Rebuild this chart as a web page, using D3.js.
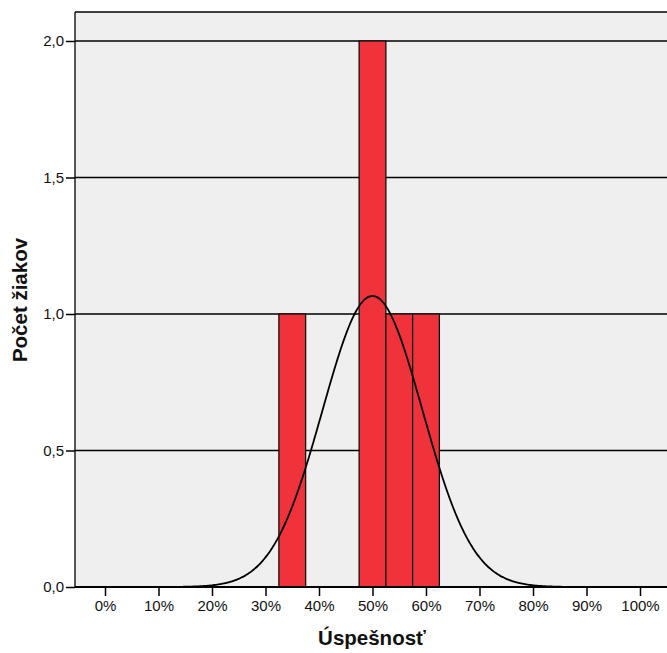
<!DOCTYPE html>
<html><head><meta charset="utf-8">
<script src="https://cdn.jsdelivr.net/npm/d3@7"></script>
<style>body{margin:0;background:#fff}svg{display:block;font-family:"Liberation Sans",Arial,sans-serif}</style>
</head><body>
<svg id="c" width="667" height="653"></svg>
<script>
// Histogram bins (percent) and counts
const binStarts = [32.5, 47.5, 52.5, 57.5];
const binWidth = 5;
const counts = [1, 2, 1, 1];
// Observations behind the histogram (bin midpoints)
const scores = [35, 50, 50, 55, 60];
const xTicks = [0,10,20,30,40,50,60,70,80,90,100];
const yTicks = [0, 0.5, 1.0, 1.5, 2.0];

(function(){
const svg = d3.select("#c");
const x = d3.scaleLinear().domain([0,100]).range([105,640]);
const y = d3.scaleLinear().domain([0,2]).range([587,41]);
const pL = 75, pT = 12, pR = 668, pB = 587;

svg.append("rect").attr("x",pL).attr("y",pT).attr("width",pR-pL).attr("height",pB-pT).attr("fill","#efefef");

// gridlines
svg.append("g").selectAll("line").data(yTicks.filter(d=>d>0)).join("line")
  .attr("x1",pL).attr("x2",pR).attr("y1",d=>y(d)).attr("y2",d=>y(d))
  .attr("stroke","#000").attr("stroke-width",1.4);

// bars
svg.append("g").selectAll("rect").data(binStarts).join("rect")
  .attr("x",d=>x(d)).attr("width",d=>x(d+binWidth)-x(d))
  .attr("y",(d,i)=>y(counts[i])).attr("height",(d,i)=>y(0)-y(counts[i]))
  .attr("fill","#f0333b").attr("stroke","#111").attr("stroke-width",1.3);

// normal curve fitted to the scores
const n = scores.length, mean = d3.mean(scores), sd = d3.deviation(scores);
const pts = d3.range(-5.5, 105.01, 0.25).map(v => [v, n*binWidth*Math.exp(-0.5*((v-mean)/sd)**2)/(sd*Math.sqrt(2*Math.PI))]);
svg.append("path").datum(pts)
  .attr("d", d3.line().x(d=>x(d[0])).y(d=>y(d[1])).curve(d3.curveBasis))
  .attr("fill","none").attr("stroke","#000").attr("stroke-width",1.8);

// left & top border
svg.append("line").attr("x1",pL).attr("x2",pL).attr("y1",pT).attr("y2",pB).attr("stroke","#000").attr("stroke-width",1.3);
svg.append("line").attr("x1",pL).attr("x2",pR).attr("y1",pT).attr("y2",pT).attr("stroke","#000").attr("stroke-width",1.3);

// axes
const yAx = svg.append("g").attr("transform",`translate(${pL},0)`)
  .call(d3.axisLeft(y).tickValues(yTicks).tickSize(9).tickPadding(2).tickFormat(d=>d3.format(".1f")(d).replace(".",",")));
const xAx = svg.append("g").attr("transform",`translate(0,${pB})`)
  .call(d3.axisBottom(x).tickValues(xTicks).tickSize(9).tickPadding(4).tickFormat(d=>d+"%"));
[yAx,xAx].forEach(g=>{
  g.select(".domain").remove();
  g.selectAll(".tick line").attr("stroke","#000").attr("stroke-width",1.5);
  g.selectAll("text").attr("fill","#111").attr("font-size",15).attr("font-family","'Liberation Sans',Arial,sans-serif");
});
svg.append("line").attr("x1",pL).attr("x2",pR).attr("y1",pB).attr("y2",pB).attr("stroke","#000").attr("stroke-width",2.2);

// titles
svg.append("text").attr("x",372).attr("y",645).attr("text-anchor","middle")
  .attr("font-size",20.5).attr("font-weight","bold").attr("fill","#111").text("Úspešnosť");
svg.append("text").attr("transform","translate(27,300) rotate(-90)").attr("text-anchor","middle")
  .attr("font-size",20.5).attr("font-weight","bold").attr("fill","#111").text("Počet žiakov");
})();
</script>
</body></html>
